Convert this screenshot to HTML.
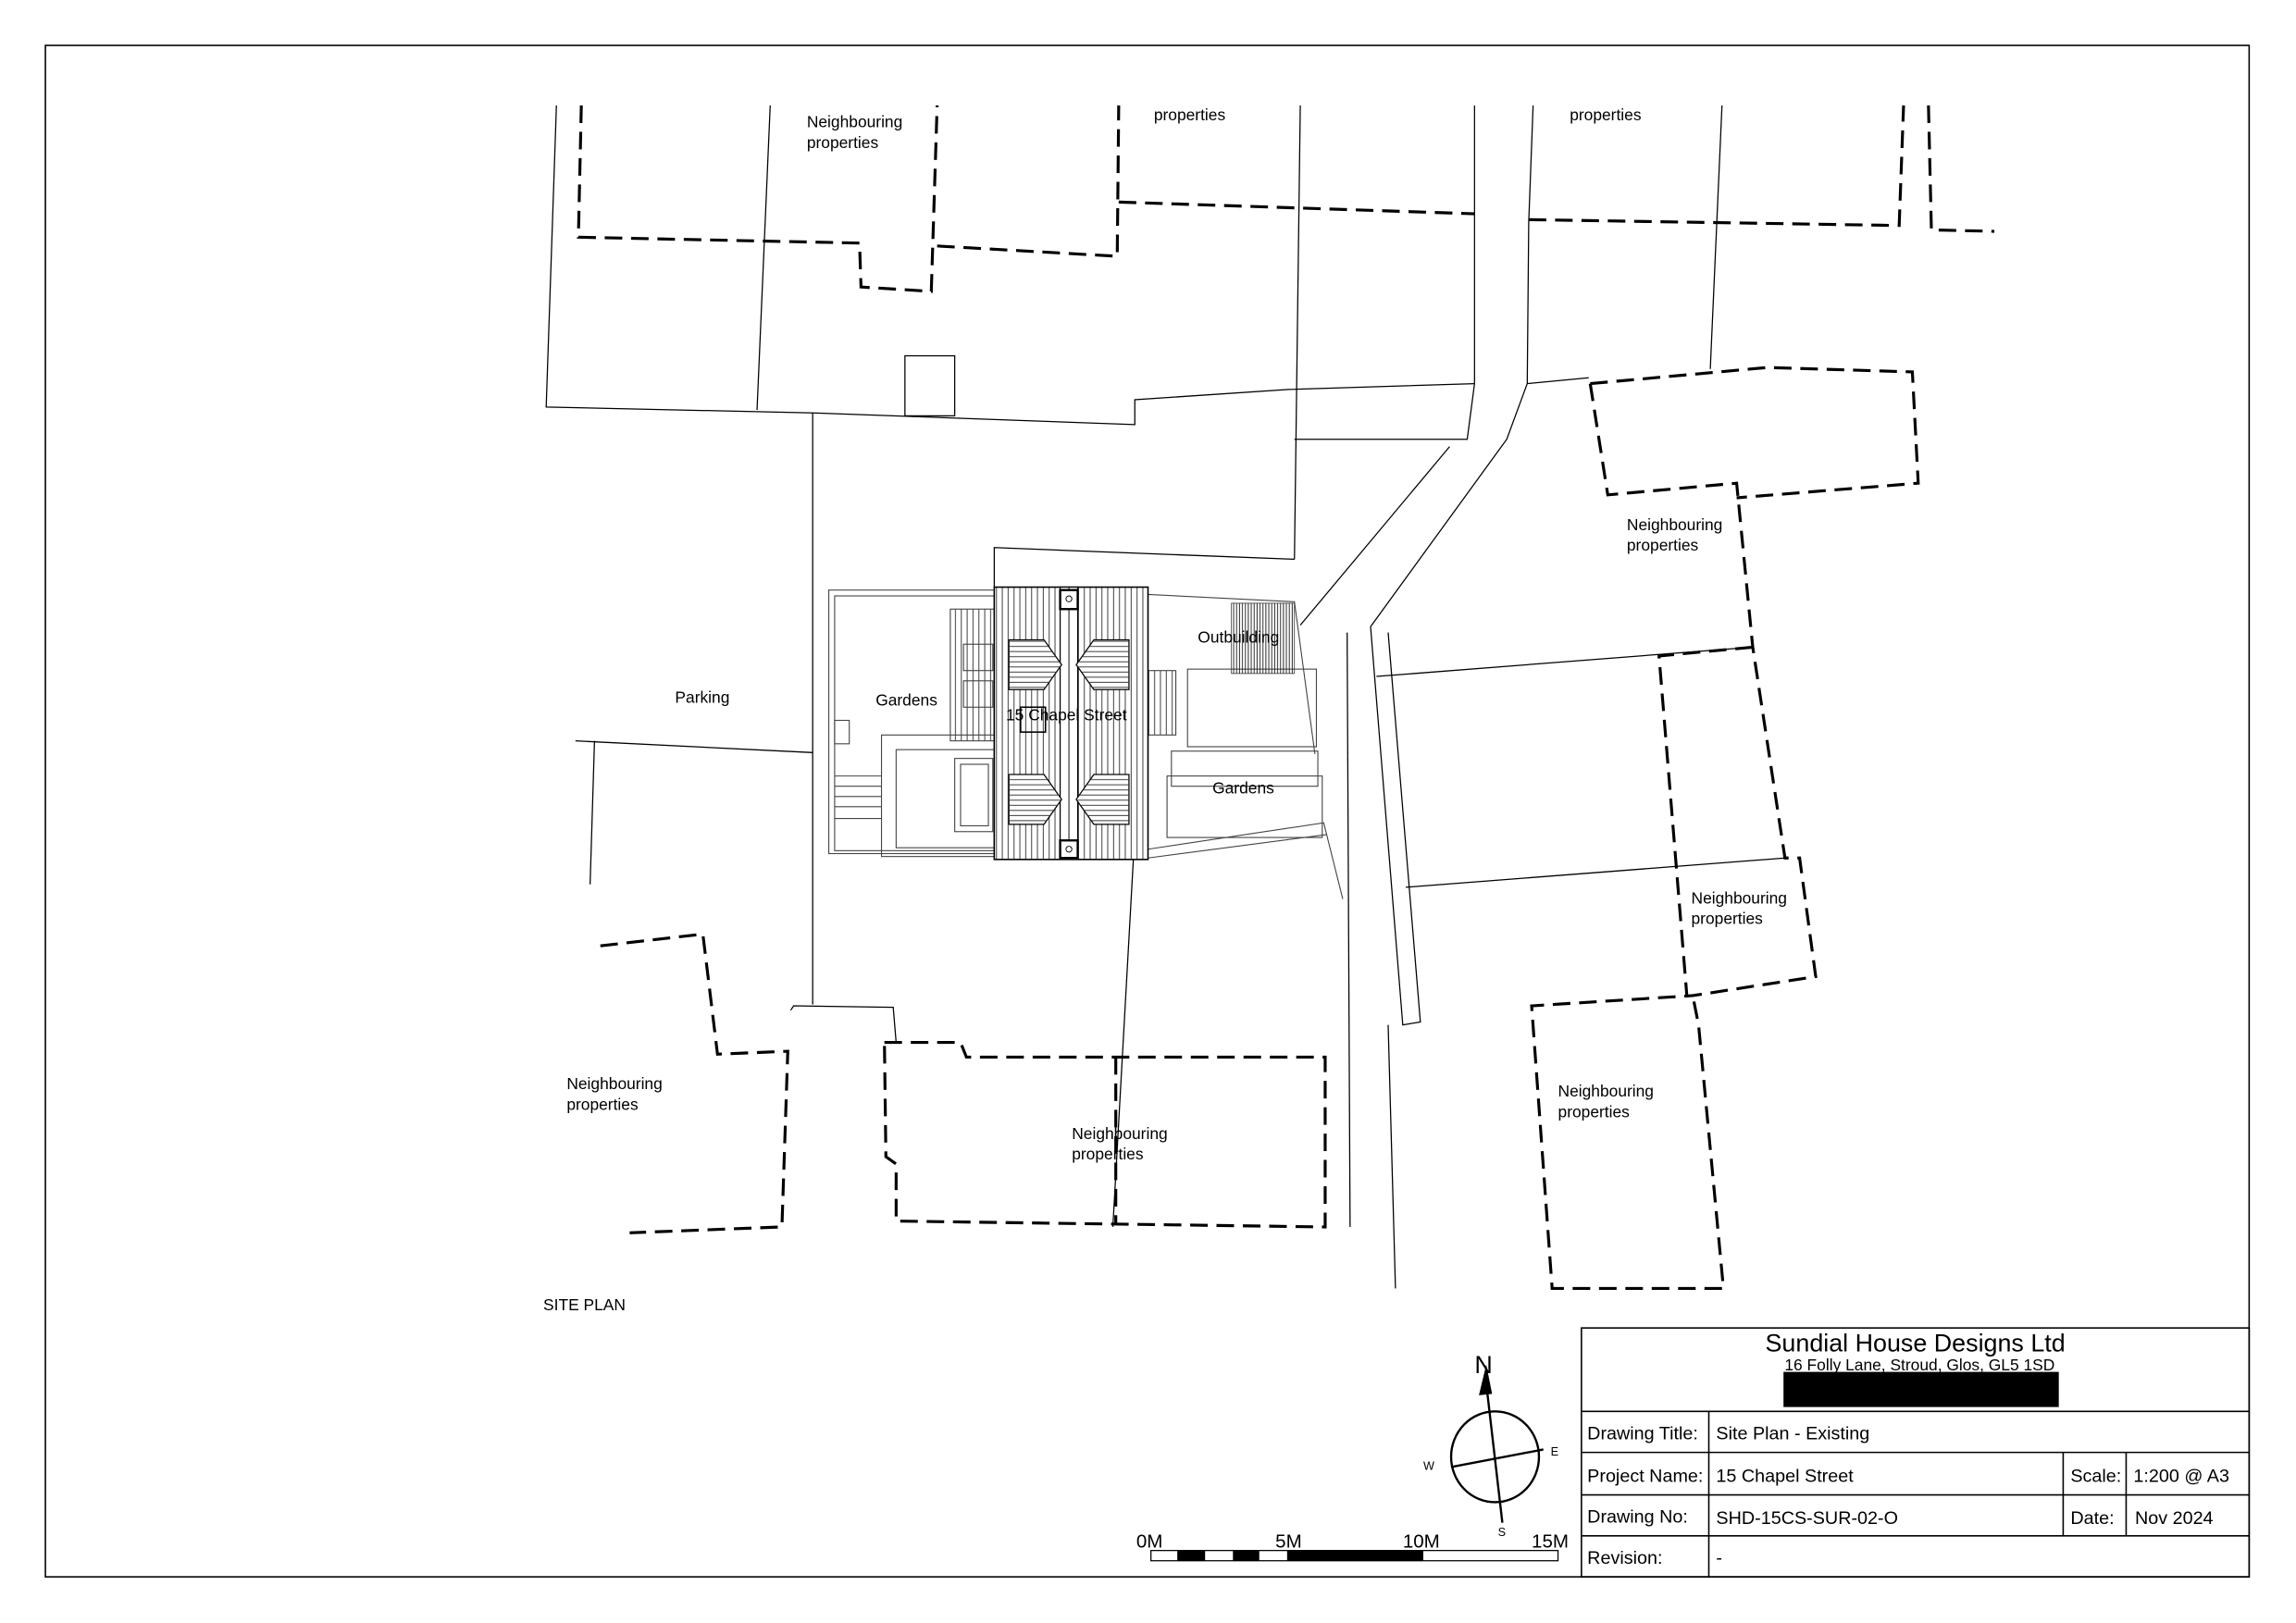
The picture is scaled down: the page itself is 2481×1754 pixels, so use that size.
<!DOCTYPE html>
<html><head><meta charset="utf-8"><style>html,body{margin:0;padding:0;background:#fff}svg{display:block}</style></head><body>
<svg width="2481" height="1754" viewBox="0 0 1568 1108.5" xmlns="http://www.w3.org/2000/svg" font-family="Liberation Sans, sans-serif">
<defs>
<pattern id="vs" width="4" height="10" patternUnits="userSpaceOnUse"><line x1="0.5" y1="0" x2="0.5" y2="10" stroke="#333" stroke-width="0.6"/></pattern>
<pattern id="hs" width="10" height="3.5" patternUnits="userSpaceOnUse"><line x1="0" y1="0.5" x2="10" y2="0.5" stroke="#333" stroke-width="0.6"/></pattern>
<pattern id="vs2" width="2" height="10" patternUnits="userSpaceOnUse"><line x1="0.5" y1="0" x2="0.5" y2="10" stroke="#222" stroke-width="0.6"/></pattern>
</defs>
<rect width="1568" height="1109" fill="#fff"/>
<rect x="31" y="31" width="1505" height="1046" fill="none" stroke="#000" stroke-width="1"/>
<g fill="none" stroke="#000" stroke-width="0.8">
<polyline points="380,72 373,278 555,282 775,290 775,273 880,266 1007,262"/>
<line x1="526" y1="72" x2="517" y2="280"/>
<rect x="618" y="243" width="34" height="41"/>
<line x1="555" y1="282" x2="555" y2="686"/>
<line x1="888" y1="72" x2="884" y2="382"/>
<polyline points="1007,72 1007,262"/>
<polyline points="1007,262 1002,300 884,300"/>
<polyline points="679,401 679,374 884,382"/>
<polyline points="1047,72 1044,152 1043,262 1085,258"/>
<polyline points="1043,262 1029,300 936,428"/>
<polyline points="888,427 990,305"/>
<polyline points="1176,72 1168,252"/>
<polyline points="936,428 958,700 970,698 948,432"/>
<polyline points="920,432 922,838"/>
<polyline points="948,700 953,880"/>
<line x1="940" y1="462" x2="1197" y2="442"/>
<line x1="960" y1="606" x2="1219" y2="586"/>
<polyline points="393,506 555,514"/>
<line x1="406" y1="506" x2="403" y2="604"/>
<polyline points="540,690 542,687 610,688 612,712"/>
<line x1="774" y1="587" x2="760" y2="838"/>
</g>
<g fill="none" stroke="#000" stroke-width="2" stroke-dasharray="12,6">
<polyline points="397,72 395,162 587,166 588,196 636,199 640,72"/>
<polyline points="640,168 763,175 764,72"/>
<polyline points="764,138 1007,146"/>
<polyline points="1044,150 1297,154 1300,72"/>
<polyline points="1317,72 1319,157 1362,158"/>
<polyline points="1086,262 1098,338 1186,330 1197,442 1219,586 1229,586 1240,667 1156,680 1046,687 1060,880 1177,880 1160,700 1156,680"/>
<polyline points="1086,262 1207,251 1306,254 1310,330 1186,340"/>
<polyline points="1197,442 1133,448 1152,680"/>
<polyline points="410,646 480,638 490,720 538,718 534,838 430,842"/>
<polyline points="604,712 656,712 660,722 905,722 905,838 612,834 612,795 605,790 604,712"/>
<line x1="762" y1="722" x2="762" y2="836"/>
</g>
<g fill="none" stroke="#444" stroke-width="0.7">
<rect x="566" y="403" width="113" height="180"/>
<rect x="570" y="407" width="109" height="174"/>
<rect x="649" y="416" width="30" height="90" fill="url(#vs)"/>
<rect x="658" y="440" width="20" height="18"/><rect x="658" y="465" width="20" height="18"/>
<rect x="602" y="502" width="77" height="83"/>
<rect x="612" y="512" width="67" height="67"/>
<rect x="652" y="518" width="26" height="50"/><rect x="656" y="522" width="19" height="42"/>
<rect x="570" y="492" width="10" height="16"/>
<line x1="570" y1="530" x2="602" y2="530"/><line x1="570" y1="537" x2="602" y2="537"/><line x1="570" y1="544" x2="602" y2="544"/><line x1="570" y1="551" x2="602" y2="551"/><line x1="570" y1="559" x2="602" y2="559"/>
<rect x="784" y="458" width="19" height="44" fill="url(#vs)"/>
<polyline points="784,406 884,411 898,515"/>
<rect x="811" y="457" width="88" height="53"/>
<rect x="800" y="513" width="100" height="24"/>
<rect x="797" y="530" width="106" height="42"/>
<polyline points="784,580 904,562 917,614"/>
<polyline points="784,586 906,570"/>
</g>
<rect x="841" y="412" width="43" height="48" fill="url(#vs2)" stroke="#333" stroke-width="0.5"/>
<rect x="679" y="401" width="105" height="186" fill="url(#vs)" stroke="#000" stroke-width="1"/>
<rect x="724" y="401" width="12" height="186" fill="#fff" stroke="#000" stroke-width="0.8"/>
<line x1="730" y1="401" x2="730" y2="587" stroke="#000" stroke-width="0.6"/>
<rect x="724" y="403" width="12" height="13" fill="#fff" stroke="#000" stroke-width="1.5"/>
<rect x="724" y="574" width="12" height="12" fill="#fff" stroke="#000" stroke-width="1.5"/>
<circle cx="730" cy="409" r="2" fill="none" stroke="#000" stroke-width="0.6"/>
<circle cx="730" cy="580" r="2" fill="none" stroke="#000" stroke-width="0.6"/>
<g fill="#fff" stroke="#000" stroke-width="0.8">
<polygon points="689,437 713,437 725,454 713,471 689,471"/>
<polygon points="771,437 747,437 735,454 747,471 771,471"/>
<polygon points="689,529 713,529 725,546 713,563 689,563"/>
<polygon points="771,529 747,529 735,546 747,563 771,563"/>
</g>
<g fill="url(#hs)" stroke="none">
<polygon points="689,437 713,437 725,454 713,471 689,471"/>
<polygon points="771,437 747,437 735,454 747,471 771,471"/>
<polygon points="689,529 713,529 725,546 713,563 689,563"/>
<polygon points="771,529 747,529 735,546 747,563 771,563"/>
</g>
<rect x="697" y="483" width="17" height="17" fill="none" stroke="#000" stroke-width="1"/>
<g font-size="11" fill="#000">
<text x="551" y="87">Neighbouring</text><text x="551" y="101">properties</text>
<text x="788" y="82">properties</text>
<text x="1072" y="82">properties</text>
<text x="1111" y="362">Neighbouring</text><text x="1111" y="376">properties</text>
<text x="1155" y="617">Neighbouring</text><text x="1155" y="631">properties</text>
<text x="1064" y="749">Neighbouring</text><text x="1064" y="763">properties</text>
<text x="732" y="778">Neighbouring</text><text x="732" y="792">properties</text>
<text x="387" y="744">Neighbouring</text><text x="387" y="758">properties</text>
<text x="461" y="480">Parking</text>
<text x="598" y="482">Gardens</text>
<text x="687" y="492">15 Chapel Street</text>
<text x="818" y="439">Outbuilding</text>
<text x="828" y="542">Gardens</text>
<text x="371" y="895">SITE PLAN</text>
</g>
<g stroke="#000" fill="none" stroke-width="1.5">
<ellipse cx="1021" cy="995" rx="30" ry="31"/>
<line x1="1015" y1="945" x2="1026" y2="1040"/>
<line x1="991" y1="1002" x2="1054" y2="990"/>
</g>
<polygon points="1015,932 1010,953 1019,952" fill="#000"/>
<text x="1007" y="938" font-size="17" fill="#000">N</text>
<text x="1059" y="994" font-size="8">E</text><text x="972" y="1004" font-size="8">W</text><text x="1023" y="1049" font-size="8">S</text>
<g font-size="13"><text x="776" y="1057">0M</text><text x="871" y="1057">5M</text><text x="958" y="1057">10M</text><text x="1046" y="1057">15M</text></g>
<rect x="786" y="1059" width="278" height="7" fill="#fff" stroke="#000" stroke-width="0.8"/>
<rect x="804" y="1059" width="19" height="7" fill="#000"/>
<rect x="842" y="1059" width="18" height="7" fill="#000"/>
<rect x="879" y="1059" width="93" height="7" fill="#000"/>
<g fill="none" stroke="#000" stroke-width="1">
<rect x="1080" y="907" width="456" height="170"/>
<line x1="1080" y1="964" x2="1536" y2="964"/>
<line x1="1080" y1="992" x2="1536" y2="992"/>
<line x1="1080" y1="1021" x2="1536" y2="1021"/>
<line x1="1080" y1="1049" x2="1536" y2="1049"/>
<line x1="1167" y1="964" x2="1167" y2="1077"/>
<line x1="1409" y1="992" x2="1409" y2="1049"/>
<line x1="1452" y1="992" x2="1452" y2="1049"/>
</g>
<text x="1308" y="923" font-size="17" text-anchor="middle">Sundial House Designs Ltd</text>
<text x="1311" y="936" font-size="11" text-anchor="middle">16 Folly Lane, Stroud, Glos, GL5 1SD</text>
<rect x="1218" y="937" width="188" height="24" fill="#000"/>
<g font-size="12.5">
<text x="1084" y="983">Drawing Title:</text><text x="1172" y="983">Site Plan - Existing</text>
<text x="1084" y="1012">Project Name:</text><text x="1172" y="1012">15 Chapel Street</text>
<text x="1414" y="1012">Scale:</text><text x="1457" y="1012">1:200 @ A3</text>
<text x="1084" y="1040">Drawing No:</text><text x="1172" y="1041">SHD-15CS-SUR-02-O</text>
<text x="1414" y="1041">Date:</text><text x="1458" y="1041">Nov 2024</text>
<text x="1084" y="1068">Revision:</text><text x="1172" y="1068">-</text>
</g>
</svg>
</body></html>
